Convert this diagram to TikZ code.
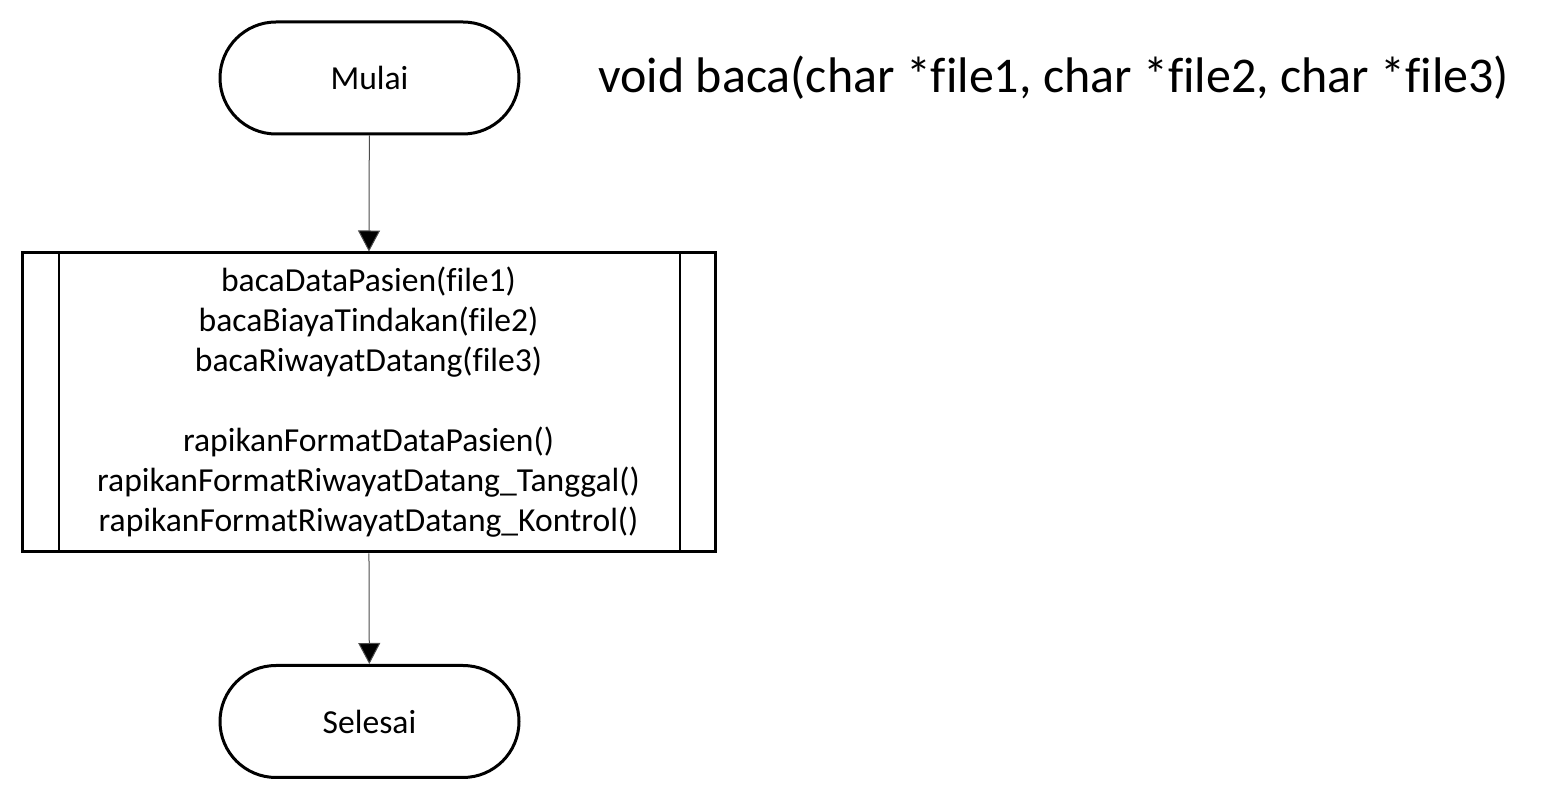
\documentclass[tikz,border=0pt]{standalone}
\usepackage{fontspec}
\setmainfont[Ligatures={NoCommon}]{Carlito}
\usetikzlibrary{arrows.meta}
\tikzset{
  term/.style={draw, line width=1.5pt, rounded corners=28pt, minimum width=149.5pt, minimum height=56pt, inner sep=0pt, font=\fontsize{16.8}{20}\selectfont},
  procbox/.style={draw, line width=1.5pt, minimum width=346.5pt, minimum height=149.5pt, inner sep=0pt, align=center, font=\fontsize{16.8}{20}\selectfont},
  conn/.style={draw=black!70, line width=0.5pt, -{Triangle[length=10.5pt,width=11pt,fill=black]}},
}
\begin{document}
\begin{tikzpicture}[x=0.5pt,y=-0.5pt]
\useasboundingbox (0,0) rectangle (1554,801);
\node[term] (start) at (369.5,78) {Mulai};
\node[procbox] (proc) at (368.5,402.5) {bacaDataPasien(file1)\\bacaBiayaTindakan(file2)\\bacaRiwayatDatang(file3)\\[20pt]rapikanFormatDataPasien()\\rapikanFormatRiwayatDatang\_Tanggal()\\rapikanFormatRiwayatDatang\_Kontrol()};
\draw[line width=1pt] ([xshift=19pt]proc.north west) -- ([xshift=19pt]proc.south west);
\draw[line width=1pt] ([xshift=-18.5pt]proc.north east) -- ([xshift=-18.5pt]proc.south east);
\node[term] (end) at (369.5,721.5) {Selesai};
\node[font=\fontsize{25}{30}\selectfont, anchor=west, inner sep=0pt] (title) at (598,78) {void baca(char *file1, char *file2, char *file3)};
\draw[conn] (start) -- (proc);
\draw[conn] (proc) -- (end);
\end{tikzpicture}
\end{document}
